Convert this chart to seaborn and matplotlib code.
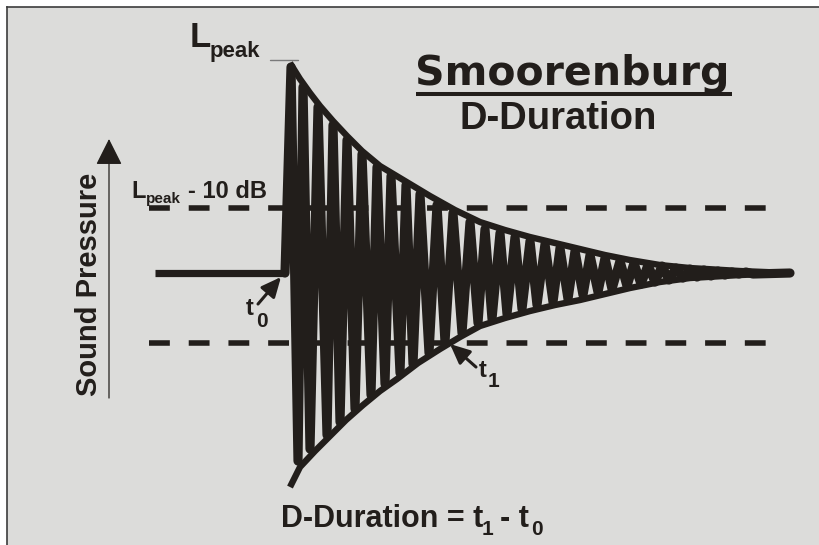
import matplotlib
matplotlib.use("Agg")
import matplotlib.pyplot as plt
import seaborn as sns

# ── data (x in px-like time units, p = pressure) ────────────────────────────
# flat line before the impulse
pre_x = [155, 285]
pre_p = [0, 0]

# decaying oscillation: alternating peaks / troughs
wave_x = [285, 291, 298, 303, 310, 318, 327, 333, 340, 347,
          355, 362, 371, 377, 385, 391, 400, 406, 413, 420,
          429, 437, 445, 453, 462, 470, 478, 485, 492, 500,
          507, 515, 522, 530, 537, 545, 553, 560, 568, 575,
          583, 590, 598, 605, 612, 620, 627, 634, 641, 648,
          655, 662, 669, 676, 683, 690, 697, 704, 711, 718,
          725, 732, 739, 746, 753, 790]
wave_p = [0, 206, -188, 186, -176, 166, -162, 148, -149, 133,
          -136, 119, -122, 106, -111, 97, -100, 88, -91, 79,
          -80, 68, -69, 60, -60, 51, -50, 44, -46, 40,
          -41, 36, -36, 32, -32, 29, -29, 25, -26, 22,
          -22, 18, -19, 15, -16, 12, -13, 10, -11, 8,
          -9, 7, -7, 5, -5, 4, -4, 3, -3, 2,
          -2, 1, -1, 1, -1, 0]

# envelopes
upper_x = [290, 300, 310, 320, 333, 347, 362, 380, 400, 430, 455,
           480, 505, 530, 555, 580, 605, 630, 660, 690, 740, 790]
upper_p = [210, 194, 180, 167, 152, 137, 122, 107, 95, 77, 63,
           51, 43, 36, 30, 24, 18, 13, 8, 5, 2, 0]
lower_x = [290, 300, 315, 330, 346, 363, 380, 397, 418, 440, 460,
           480, 505, 530, 555, 580, 605, 630, 660, 690, 740, 790]
lower_p = [-214, -194, -178, -163, -147, -132, -118, -106, -90, -76, -64,
           -53, -45, -38, -32, -27, -21, -15, -9, -5, -2, 0]

l_peak = 210
l_minus10 = [65, -70]        # L_peak - 10 dB, both polarities
dash_span = [149, 769]
peak_tick_x = [270, 298]

INK = "#221e1b"
PANEL = "#dcdcda"

sns.set_theme(style="white")
plt.rcParams["font.family"] = ["Liberation Sans", "DejaVu Sans"]
plt.rcParams["font.weight"] = "bold"

fig = plt.figure(figsize=(8.19, 5.45), dpi=100, facecolor="white")
# panel runs off the right / bottom edge, frame only on left and top
ax = fig.add_axes([7 / 819, -0.01, 1.0, 538 / 545 + 0.01])
ax.set_facecolor(PANEL)
ax.set_xlim(7, 826)
ax.set_ylim(-277.4, 266)
ax.set_xticks([])
ax.set_yticks([])
for side in ["right", "bottom"]:
    ax.spines[side].set_visible(False)
for side in ["left", "top"]:
    ax.spines[side].set_color("#3c3c3c")
    ax.spines[side].set_linewidth(1.2)

# dashed -10 dB levels
ax.hlines(l_minus10, dash_span[0], dash_span[1], colors=INK, linewidth=4.0,
          linestyles=(0, (3.75, 3.4)), zorder=2)

# waveform + envelopes
sns.lineplot(x=pre_x, y=pre_p, ax=ax, color=INK, lw=5.2, sort=False,
             estimator=None, solid_capstyle="butt", zorder=3)
sns.lineplot(x=wave_x, y=wave_p, ax=ax, color=INK, lw=6.6, sort=False,
             estimator=None, zorder=3)
sns.lineplot(x=upper_x, y=upper_p, ax=ax, color=INK, lw=4.6, sort=False,
             estimator=None, solid_capstyle="butt", zorder=3)
sns.lineplot(x=lower_x, y=lower_p, ax=ax, color=INK, lw=4.6, sort=False,
             estimator=None, solid_capstyle="butt", zorder=3)

# L_peak marker
ax.plot(peak_tick_x, [l_peak + 3, l_peak + 3], color="#7a7a7a", lw=1.0)
ax.text(189.5, 226, "L", fontsize=25, color=INK, ha="left", va="baseline")
ax.text(210, 216, "peak", fontsize=16, color=INK, ha="left", va="baseline")

# title
ax.text(415, 188, "Smoorenburg", fontsize=29.5, family=["DejaVu Sans"],
        fontweight="bold", color=INK, ha="left", va="baseline")
ax.plot([416, 732], [179, 179], color=INK, lw=2.9, solid_capstyle="butt")
ax.text(460, 144, "D-Duration", fontsize=27.5, color=INK, ha="left", va="baseline")

# L_peak - 10 dB label
ax.text(131, 75, "L", fontsize=17, color=INK, ha="left", va="baseline")
ax.text(146, 70, "peak", fontsize=11, color=INK, ha="left", va="baseline")
ax.text(188, 75, "- 10 dB", fontsize=17, color=INK, ha="left", va="baseline")

# y label with arrow
ax.annotate("", xy=(109, 134), xytext=(109, -125),
            arrowprops=dict(arrowstyle="-|>,head_length=16.5,head_width=8.3",
                            mutation_scale=1, color=INK, lw=0.9,
                            shrinkA=0, shrinkB=0))
ax.text(97, -11, "Sound Pressure", fontsize=21, color=INK, rotation=90,
        rotation_mode="anchor", ha="center", va="baseline")

# t0 / t1 markers
ax.annotate("", xy=(281, -4), xytext=(258, -31),
            arrowprops=dict(arrowstyle="-|>,head_length=12,head_width=5.5",
                            mutation_scale=1, color=INK, lw=2.2,
                            shrinkA=0, shrinkB=0), zorder=4)
ax.text(246, -42, "t", fontsize=17, color=INK, ha="left", va="baseline")
ax.text(256, -54, "0", fontsize=15, color=INK, ha="left", va="baseline")

ax.annotate("", xy=(450, -71), xytext=(476, -94),
            arrowprops=dict(arrowstyle="-|>,head_length=12,head_width=5.5",
                            mutation_scale=1, color=INK, lw=2.2,
                            shrinkA=0, shrinkB=0), zorder=4)
ax.text(479, -104, "t", fontsize=17, color=INK, ha="left", va="baseline")
ax.text(488, -114, "1", fontsize=15, color=INK, ha="left", va="baseline")

# formula
ax.text(281, -254, "D-Duration = t", fontsize=22, color=INK, ha="left", va="baseline")
ax.text(482, -262, "1", fontsize=15, color=INK, ha="left", va="baseline")
ax.text(500, -254, "- t", fontsize=22, color=INK, ha="left", va="baseline")
ax.text(531, -262, "0", fontsize=15, color=INK, ha="left", va="baseline")

fig.savefig("out.png", dpi=100, facecolor="white")
